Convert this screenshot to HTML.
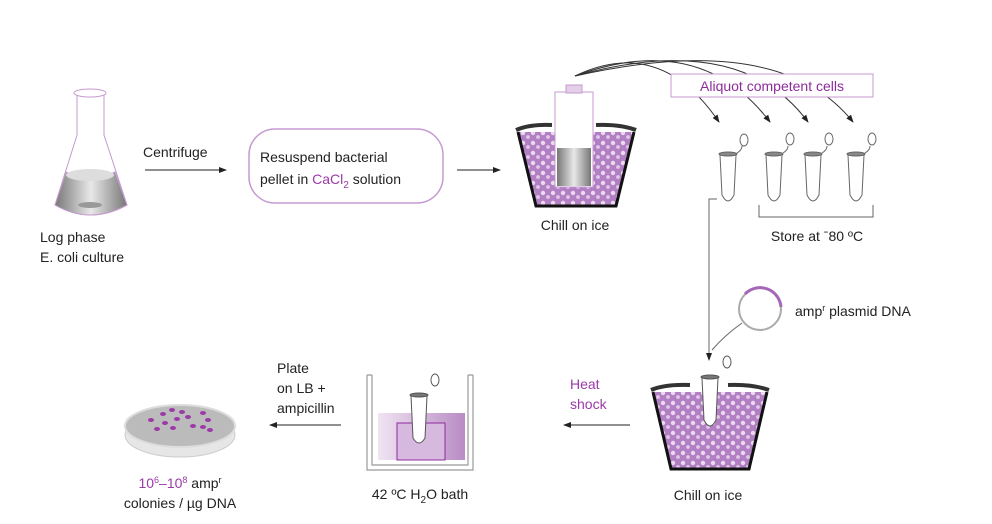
<!DOCTYPE html>
<html><head><meta charset="utf-8"><style>
body{margin:0;background:#fff;}
svg{display:block;font-family:"Liberation Sans",Arial,sans-serif;}
</style></head><body>
<svg width="992" height="524" viewBox="0 0 992 524" xmlns="http://www.w3.org/2000/svg">
<defs>
<marker id="ar" markerWidth="8" markerHeight="8" refX="7" refY="4" orient="auto" markerUnits="userSpaceOnUse"><path d="M0,1 L8,4 L0,7 Z" fill="#222"/></marker>
<linearGradient id="gr" x1="0" x2="1"><stop offset="0" stop-color="#777"/><stop offset="0.5" stop-color="#e8e8e8"/><stop offset="1" stop-color="#777"/></linearGradient>
<linearGradient id="wb" x1="0" x2="1"><stop offset="0" stop-color="#f0e4f2"/><stop offset="1" stop-color="#b98cc4"/></linearGradient>
<pattern id="ice" width="10" height="10" patternUnits="userSpaceOnUse"><rect width="10" height="10" fill="#b37fc4"/><circle cx="3" cy="3" r="2.2" fill="#ead9ef"/><circle cx="8" cy="7" r="1.9" fill="#e0c9e7"/></pattern>
</defs>
<g font-size="14" fill="#222">
<ellipse cx="90" cy="93" rx="16" ry="4" fill="none" stroke="#c59ad0"/>
<path d="M77,95 L77,135 L55,205 Q90,225 127,205 L104,135 L104,95" fill="none" stroke="#c59ad0"/>
<path d="M66,172 Q90,185 115,172 L127,205 Q90,225 55,205 Z" fill="url(#gr)" stroke="#c59ad0"/>
<ellipse cx="90" cy="175" rx="24" ry="6" fill="#ddd"/>
<ellipse cx="90" cy="205" rx="12" ry="3" fill="#999"/>
<text x="40" y="242">Log phase</text>
<text x="40" y="262">E. coli culture</text>
<text x="143" y="157">Centrifuge</text>
<line x1="145" y1="170" x2="226" y2="170" stroke="#222" marker-end="url(#ar)"/>
<rect x="249" y="129" width="194" height="74" rx="26" fill="none" stroke="#c59ad0" stroke-width="1.5"/>
<text x="260" y="162">Resuspend bacterial</text>
<text x="260" y="184">pellet in <tspan fill="#9b3aa8">CaCl<tspan font-size="10" dy="4">2</tspan></tspan><tspan dy="-4"> solution</tspan></text>
<line x1="457" y1="170" x2="500" y2="170" stroke="#222" marker-end="url(#ar)"/>
<path d="M518,132 L536,206 L616,206 L634,132" fill="url(#ice)" stroke="#111" stroke-width="3"/>
<path d="M516,130 Q530,124 552,125 M596,125 Q620,124 636,130" stroke="#333" stroke-width="4" fill="none"/>
<rect x="555" y="92" width="38" height="95" fill="#fff" stroke="#c59ad0"/>
<rect x="566" y="85" width="16" height="8" fill="#e4cfe9" stroke="#c59ad0"/>
<rect x="557" y="148" width="34" height="38" fill="url(#gr)"/>
<text x="575" y="230" text-anchor="middle">Chill on ice</text>
<g fill="none" stroke="#333">
<path d="M575,76 Q660,35 719,122" marker-end="url(#ar)"/>
<path d="M575,76 Q700,30 770,122" marker-end="url(#ar)"/>
<path d="M575,76 Q740,30 808,122" marker-end="url(#ar)"/>
<path d="M575,76 Q780,30 853,122" marker-end="url(#ar)"/>
</g>
<rect x="671" y="74" width="202" height="23" fill="#fff" stroke="#c59ad0"/>
<text x="772" y="91" text-anchor="middle" fill="#8e2c9c">Aliquot competent cells</text>
<g fill="#fff" stroke="#666">
<g transform="translate(728,0)"><path d="M-8,155 L-6,195 Q0,207 6,195 L8,155 Z"/><ellipse cx="0" cy="154" rx="9" ry="2" fill="#888"/><ellipse cx="16" cy="140" rx="4" ry="6"/><path d="M9,153 Q14,150 14,146"/></g>
<g transform="translate(774,0)"><path d="M-8,155 L-6,195 Q0,207 6,195 L8,155 Z"/><ellipse cx="0" cy="154" rx="9" ry="2" fill="#888"/><ellipse cx="16" cy="139" rx="4" ry="6"/><path d="M9,153 Q14,150 14,146"/></g>
<g transform="translate(813,0)"><path d="M-8,155 L-6,195 Q0,207 6,195 L8,155 Z"/><ellipse cx="0" cy="154" rx="9" ry="2" fill="#888"/><ellipse cx="16" cy="139" rx="4" ry="6"/><path d="M9,153 Q14,150 14,146"/></g>
<g transform="translate(856,0)"><path d="M-8,155 L-6,195 Q0,207 6,195 L8,155 Z"/><ellipse cx="0" cy="154" rx="9" ry="2" fill="#888"/><ellipse cx="16" cy="139" rx="4" ry="6"/><path d="M9,153 Q14,150 14,146"/></g>
</g>
<path d="M759,205 L759,217 L873,217 L873,205" fill="none" stroke="#666"/>
<text x="817" y="241" text-anchor="middle">Store at ˉ80 ºC</text>
<path d="M717,199 L709,199 L709,360" fill="none" stroke="#666" marker-end="url(#ar)"/>
<circle cx="760" cy="309" r="21" fill="none" stroke="#aaa" stroke-width="2"/>
<path d="M745,294 A21,21 0 0 1 781,307" fill="none" stroke="#a566b8" stroke-width="3"/>
<path d="M742,323 Q725,335 712,350" fill="none" stroke="#666"/>
<text x="795" y="316">amp<tspan font-size="9" dy="-5">r</tspan><tspan dy="5"> plasmid DNA</tspan></text>
<path d="M653,392 L671,469 L749,469 L767,392" fill="url(#ice)" stroke="#111" stroke-width="3"/>
<path d="M651,390 Q665,384 690,385 M728,385 Q752,384 769,390" stroke="#333" stroke-width="4" fill="none"/>
<g fill="#fff" stroke="#555"><path d="M702,378 L704,420 Q710,432 716,420 L718,378 Z"/><ellipse cx="710" cy="377" rx="9" ry="2" fill="#777"/><ellipse cx="727" cy="362" rx="4" ry="6"/></g>
<text x="708" y="500" text-anchor="middle">Chill on ice</text>
<text x="570" y="389" fill="#9b3aa8">Heat</text>
<text x="570" y="409" fill="#9b3aa8">shock</text>
<line x1="630" y1="425" x2="564" y2="425" stroke="#222" marker-end="url(#ar)"/>
<rect x="378" y="413" width="87" height="47" fill="url(#wb)"/>
<rect x="397" y="423" width="48" height="37" fill="#d7b8df" stroke="#8e2c9c"/>
<path d="M367,375 L367,470 L473,470 L473,375 M372,375 L372,465 L468,465 L468,375 M367,375 L372,375 M468,375 L473,375" fill="none" stroke="#999" stroke-width="1.2"/>
<g fill="#fff" stroke="#555"><path d="M411,396 L413,438 Q419,448 425,438 L427,396 Z"/><ellipse cx="419" cy="395" rx="9" ry="2" fill="#777"/><ellipse cx="435" cy="380" rx="4" ry="6"/></g>
<text x="420" y="499" text-anchor="middle">42 ºC H<tspan font-size="10" dy="4">2</tspan><tspan dy="-4">O bath</tspan></text>
<line x1="341" y1="425" x2="270" y2="425" stroke="#222" marker-end="url(#ar)"/>
<text x="277" y="373">Plate</text>
<text x="277" y="393">on LB +</text>
<text x="277" y="413">ampicillin</text>
<ellipse cx="180" cy="435" rx="55" ry="22" fill="#e6e6e6" stroke="#ccc"/>
<ellipse cx="180" cy="426" rx="55" ry="21" fill="#bbb" stroke="#ddd" stroke-width="2"/>
<g fill="#9b3aa8">
<ellipse cx="163" cy="414" rx="3" ry="2"/><ellipse cx="172" cy="410" rx="3" ry="2"/><ellipse cx="182" cy="412" rx="3" ry="2"/><ellipse cx="203" cy="413" rx="3" ry="2"/>
<ellipse cx="151" cy="420" rx="3" ry="2"/><ellipse cx="165" cy="423" rx="3" ry="2"/><ellipse cx="177" cy="419" rx="3" ry="2"/><ellipse cx="188" cy="417" rx="3" ry="2"/><ellipse cx="208" cy="420" rx="3" ry="2"/>
<ellipse cx="157" cy="429" rx="3" ry="2"/><ellipse cx="173" cy="428" rx="3" ry="2"/><ellipse cx="193" cy="426" rx="3" ry="2"/><ellipse cx="203" cy="427" rx="3" ry="2"/><ellipse cx="210" cy="430" rx="3" ry="2"/>
</g>
<text x="180" y="488" text-anchor="middle"><tspan fill="#9b3aa8">10<tspan font-size="9" dy="-5">6</tspan><tspan dy="5">–10</tspan><tspan font-size="9" dy="-5">8</tspan></tspan><tspan dy="5"> amp</tspan><tspan font-size="9" dy="-5">r</tspan></text>
<text x="180" y="508" text-anchor="middle">colonies / µg DNA</text>
</g>
</svg>
</body></html>
